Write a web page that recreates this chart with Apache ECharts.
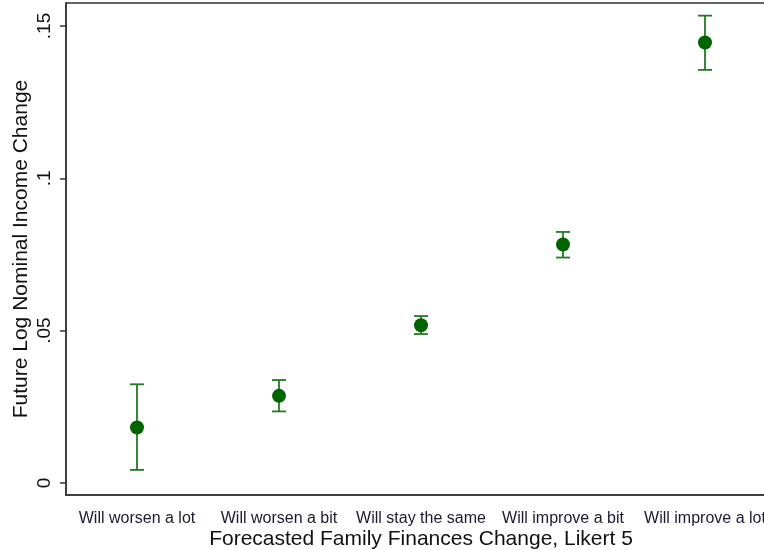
<!DOCTYPE html>
<html><head><meta charset="utf-8">
<script src="https://cdn.jsdelivr.net/npm/echarts@6/dist/echarts.min.js"></script>
<style>html,body{margin:0;padding:0;background:#fff}#c{width:764px;height:550px}</style>
</head><body><div id="c"></div>
<script>
const categories = ["Will worsen a lot","Will worsen a bit","Will stay the same","Will improve a bit","Will improve a lot"];
const means = [0.0182, 0.0286, 0.0518, 0.0783, 0.1446];
const lower = [0.0043, 0.0235, 0.0489, 0.0740, 0.1356];
const upper = [0.0324, 0.0338, 0.0548, 0.0824, 0.1534];
const yTicks = [0, 0.05, 0.1, 0.15];
const yTickLabels = ["0", ".05", ".1", ".15"];

const chart = echarts.init(document.getElementById('c'));
const errData = categories.map((c, i) => [i, lower[i], upper[i]]);
chart.setOption({
  animation: false,
  backgroundColor: '#fff',
  grid: { left: 66, top: 3, width: 710, height: 492, show: true, borderColor: '#333', borderWidth: 1.5,
    backgroundColor: 'transparent', containLabel: false, outerBoundsMode: 'none' },
  xAxis: {
    type: 'category', data: categories, boundaryGap: true,
    name: 'Forecasted Family Finances Change, Likert 5', nameLocation: 'middle', nameGap: 34, nameMoveOverlap: false,
    nameTextStyle: { fontFamily: 'Liberation Sans', fontSize: 21, color: '#111' },
    axisLine: { onZero: false, lineStyle: { color: '#333', width: 1.5 } },
    axisTick: { alignWithLabel: true, length: 7, lineStyle: { color: '#333', width: 1.5 } },
    axisLabel: { fontFamily: 'Liberation Sans', fontSize: 16, color: '#1a1a2e', margin: 16, interval: 0, hideOverlap: false },
    splitLine: { show: false }
  },
  yAxis: {
    type: 'value', min: -0.00394, max: 0.15755,
    name: 'Future Log Nominal Income Change', nameLocation: 'middle', nameGap: 34, nameMoveOverlap: false,
    nameTextStyle: { fontFamily: 'Liberation Sans', fontSize: 21, color: '#111' },
    axisLine: { show: true, onZero: false, lineStyle: { color: '#333', width: 1.5 } },
    axisTick: { show: true, length: 6, lineStyle: { color: '#333', width: 1.5 }, customValues: yTicks },
    axisLabel: { rotate: 90, fontFamily: 'Liberation Sans', fontSize: 19, color: '#111', margin: 12,
      customValues: yTicks,
      formatter: v => { const i = yTicks.findIndex(t => Math.abs(t - v) < 1e-9); return i >= 0 ? yTickLabels[i] : ''; } },
    splitLine: { show: false }
  },
  series: [
    {
      type: 'custom',
      data: errData,
      z: 2,
      renderItem: (params, api) => {
        const x = api.value(0);
        const lo = api.coord([x, api.value(1)]);
        const hi = api.coord([x, api.value(2)]);
        const hw = 7;
        const style = { stroke: '#237a23', lineWidth: 1.8 };
        return { type: 'group', children: [
          { type: 'line', shape: { x1: lo[0], y1: lo[1], x2: hi[0], y2: hi[1] }, style },
          { type: 'line', shape: { x1: lo[0] - hw, y1: lo[1], x2: lo[0] + hw, y2: lo[1] }, style },
          { type: 'line', shape: { x1: hi[0] - hw, y1: hi[1], x2: hi[0] + hw, y2: hi[1] }, style }
        ]};
      }
    },
    {
      type: 'scatter', data: means, symbol: 'circle', symbolSize: 14, z: 3,
      itemStyle: { color: '#006400', opacity: 1 }
    }
  ]
});
</script></body></html>
